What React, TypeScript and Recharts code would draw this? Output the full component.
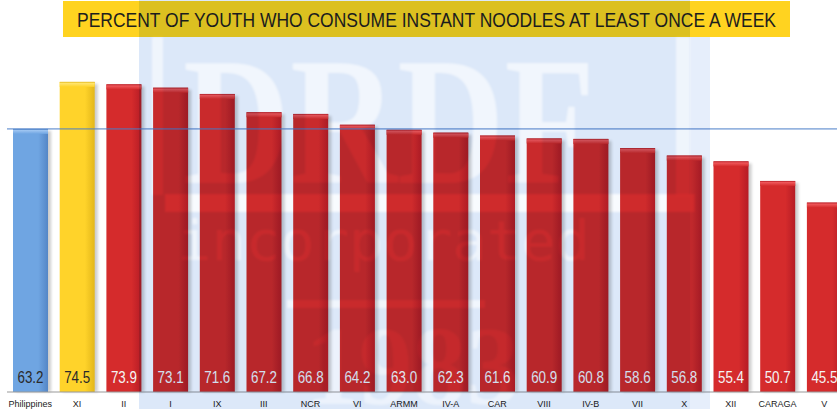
import React from 'react'
import { BarChart, Bar, XAxis, YAxis, ReferenceLine, LabelList } from 'recharts'

const regions = ['Philippines', 'XI', 'II', 'I', 'IX', 'III', 'NCR', 'VI', 'ARMM', 'IV-A', 'CAR', 'VIII', 'IV-B', 'VII', 'X', 'XII', 'CARAGA', 'V']
const percent = [63.2, 74.5, 73.9, 73.1, 71.6, 67.2, 66.8, 64.2, 63.0, 62.3, 61.6, 60.9, 60.8, 58.6, 56.8, 55.4, 50.7, 45.5]
const nationalAverage = 63.2

const title = 'PERCENT OF YOUTH WHO CONSUME INSTANT NOODLES AT LEAST ONCE A WEEK'

const data = regions.map((r, i) => ({ region: r, value: percent[i] }))

const kindOf = (i: number) => (i === 0 ? 'blue' : i === 1 ? 'yellow' : 'red')

const palette: Record<string, { base: string; dark: string; top: string; text: string }> = {
  blue: { base: '#6FA5E2', dark: '#5486C6', top: '#9DC4F1', text: '#2a2a2a' },
  yellow: { base: '#FFD32A', dark: '#E3B71A', top: '#FFE46C', text: '#2a2a2a' },
  red: { base: '#D52B2C', dark: '#B61C25', top: '#EE5659', text: '#F4F4F4' },
}

function BevelBar(props: any) {
  const { x, y, width, height, index } = props
  if (height <= 0) return null
  const k = kindOf(index)
  return (
    <g>
      <rect x={x + 3} y={y + 2} width={width} height={height - 2} fill="#000" opacity={0.2} filter="url(#soft)" />
      <rect x={x} y={y} width={width} height={height} fill={`url(#g-${k})`} />
      <rect x={x} y={y} width={width} height={5} fill={`url(#t-${k})`} />
    </g>
  )
}

function ValueLabel(props: any) {
  const { x, y, width, height, value, index } = props
  const k = kindOf(index)
  return (
    <text
      x={x + width / 2}
      y={y + height - 9}
      textAnchor="middle"
      fontSize={16.5}
      fontFamily="'Liberation Sans Narrow', 'Arial Narrow', 'Liberation Sans', Arial, sans-serif"
      fill={palette[k].text}
      textLength={26}
      lengthAdjust="spacingAndGlyphs"
    >
      {Number(value).toFixed(1)}
    </text>
  )
}

function RegionTick(props: any) {
  const { x, y, payload } = props
  return (
    <text x={x} y={y + 15} textAnchor="middle" fontSize={9} fontFamily="'Liberation Sans', Arial, sans-serif" fill="#222">
      {payload.value}
    </text>
  )
}

function Defs() {
  return (
    <svg width={0} height={0} style={{ position: 'absolute' }}>
      <defs>
        <filter id="soft" x="-20%" y="-5%" width="140%" height="110%">
          <feGaussianBlur stdDeviation="1.5" />
        </filter>
        <filter id="wmblur">
          <feGaussianBlur stdDeviation="1.2" />
        </filter>
        {Object.keys(palette).map(k => (
          <React.Fragment key={k}>
            <linearGradient id={`g-${k}`} x1="0" y1="0" x2="1" y2="0">
              <stop offset="0" stopColor={palette[k].base} />
              <stop offset="0.72" stopColor={palette[k].base} />
              <stop offset="1" stopColor={palette[k].dark} />
            </linearGradient>
            <linearGradient id={`t-${k}`} x1="0" y1="0" x2="0" y2="1">
              <stop offset="0" stopColor={palette[k].dark} />
              <stop offset="0.3" stopColor={palette[k].top} />
              <stop offset="1" stopColor={palette[k].base} />
            </linearGradient>
          </React.Fragment>
        ))}
      </defs>
    </svg>
  )
}

function Watermark() {
  return (
    <svg width={837} height={409} style={{ position: 'absolute', left: 0, top: 0, mixBlendMode: 'multiply', pointerEvents: 'none' }}>
      <rect x={139} y={0} width={551} height={409} fill="#DCE8F9" />
      <rect x={690} y={37} width={20} height={372} fill="#E6EEFB" />
      <g filter="url(#wmblur)">
        <rect x={152} y={37} width={11} height={158} fill="#fff" opacity={0.55} />
        <rect x={676} y={37} width={14} height={160} fill="#fff" opacity={0.55} />
        <text x={183} y={183} fontSize={183} fontWeight="bold" fontFamily="'Liberation Serif', serif" fill="#fff" opacity={0.6} textLength={412} lengthAdjust="spacingAndGlyphs">
          DRDF
        </text>
        <rect x={165} y={194} width={530} height={18} fill="#fff" opacity={0.8} />
        <text x={177} y={260} fontSize={55} fontFamily="'DejaVu Sans Mono', monospace" fill="#fff" opacity={0.55} textLength={413} lengthAdjust="spacingAndGlyphs">
          incorporated
        </text>
        <rect x={287} y={300} width={198} height={8} fill="#fff" opacity={0.6} />
        <text x={305} y={404} fontSize={112} fontWeight="bold" fontFamily="'Liberation Serif', serif" fill="#fff" opacity={0.45} textLength={215} lengthAdjust="spacingAndGlyphs">
          1983
        </text>
      </g>
    </svg>
  )
}

function Title() {
  return (
    <svg width={837} height={40} style={{ position: 'absolute', left: 0, top: 0 }}>
      <rect x={63} y={1} width={727} height={36} fill="#FFD320" />
      <text x={77} y={27} fontSize={21} fontFamily="'Liberation Sans', Arial, sans-serif" fill="#1e1e1e" textLength={699} lengthAdjust="spacingAndGlyphs">
        {title}
      </text>
    </svg>
  )
}

export default function App() {
  return (
    <div style={{ position: 'absolute', left: 0, top: 0, width: 837, height: 409, overflow: 'hidden', background: '#fff' }}>
      <Defs />
      <div style={{ position: 'absolute', left: 0, top: 0 }}>
        <BarChart width={860} height={409} data={data} margin={{ top: 59, right: 12.4, bottom: 0, left: 7 }} barSize={35}>
          <YAxis hide domain={[0, 80]} />
          <XAxis
            dataKey="region"
            interval={0}
            height={17}
            tickSize={0}
            tickMargin={0}
            tickLine={false}
            axisLine={{ stroke: '#999' }}
            tick={<RegionTick />}
          />
          <Bar dataKey="value" shape={<BevelBar />} isAnimationActive={false}>
            <LabelList dataKey="value" content={<ValueLabel />} />
          </Bar>
          <ReferenceLine y={nationalAverage} stroke="#4A7EC8" strokeWidth={1} />
        </BarChart>
      </div>
      <Title />
      <Watermark />
    </div>
  )
}
